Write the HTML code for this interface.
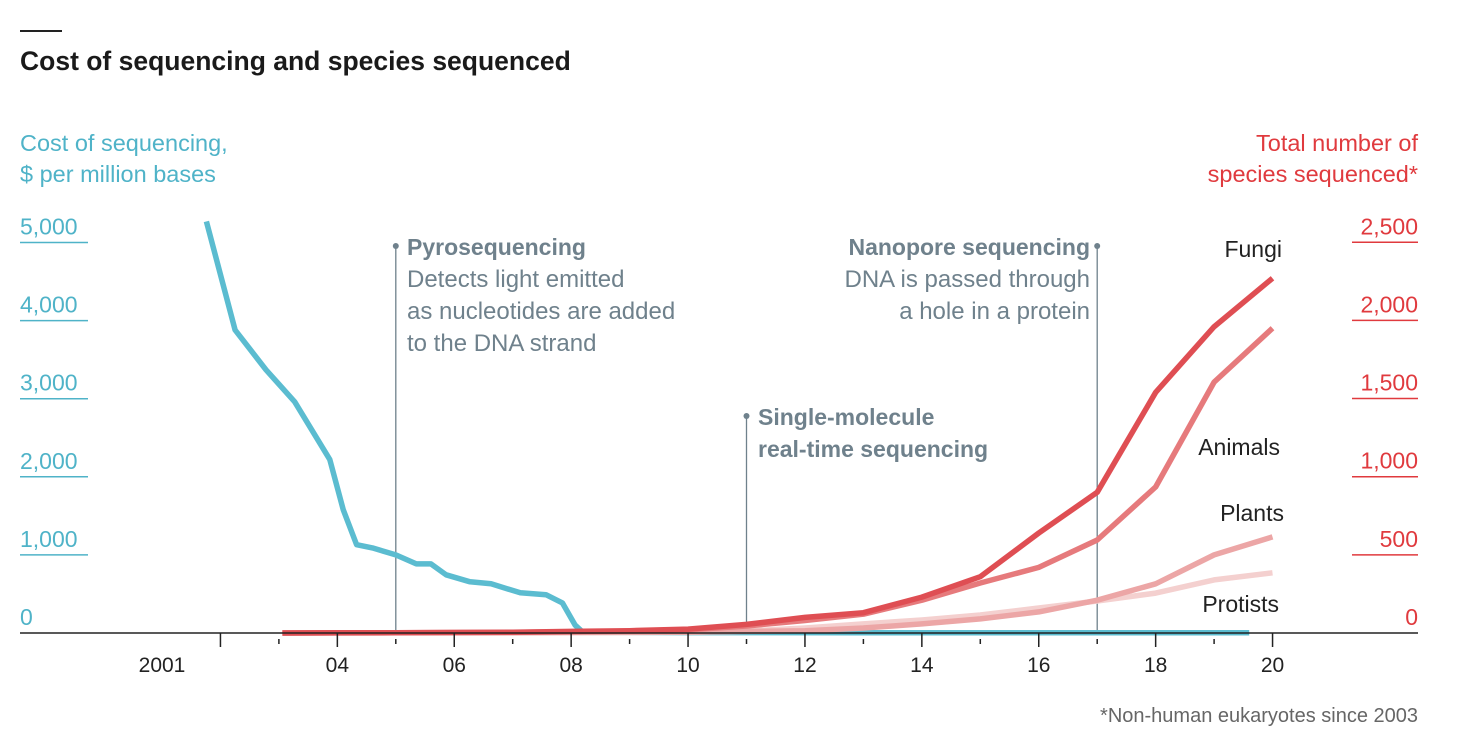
<!DOCTYPE html>
<html><head><meta charset="utf-8"><style>
body{margin:0;background:#fff;width:1468px;height:750px;overflow:hidden;font-family:"Liberation Sans",sans-serif}
svg{display:block}
</style></head><body>
<svg width="1468" height="750" id="chart">
<rect x="20" y="30" width="42" height="2" fill="#222"/>
<text x="20" y="70" font-size="26.5" font-weight="bold" fill="#1a1a1a">Cost of sequencing and species sequenced</text>
<text x="20" y="151" font-size="23.5" fill="#4fb3c8">Cost of sequencing,</text>
<text x="20" y="182" font-size="23.5" fill="#4fb3c8">$ per million bases</text>
<text x="1418" y="151" font-size="23.5" fill="#e03a3e" text-anchor="end">Total number of</text>
<text x="1418" y="182" font-size="23.5" fill="#e03a3e" text-anchor="end">species sequenced*</text>
<g id="grid"></g>
<g id="annot"></g>
<g id="series"></g>
<line x1="20" y1="633" x2="1418" y2="633" stroke="#222" stroke-width="1.5"/>
<g id="xaxis"></g>
<text x="1280" y="455" font-size="23" fill="#222" text-anchor="end">Animals</text>
<text x="1282" y="257" font-size="23" fill="#222" text-anchor="end">Fungi</text>
<text x="1284" y="521" font-size="23" fill="#222" text-anchor="end">Plants</text>
<text x="1279" y="612" font-size="23" fill="#222" text-anchor="end">Protists</text>
<text x="1418" y="722" font-size="20" fill="#666" text-anchor="end">*Non-human eukaryotes since 2003</text>
</svg>
<script>
const costYears=[2001.76,2002.25,2002.78,2003.27,2003.87,2004.1,2004.33,2004.6,2005,2005.35,2005.6,2005.86,2006.27,2006.63,2007.13,2007.57,2007.85,2008.07,2008.2,2010,2013,2019.6];
const costValues=[5270,3880,3370,2960,2220,1580,1130,1090,1000,885,885,745,655,630,515,490,385,100,10,5,3,3];
const spYears=[2003.06,2004,2005,2006,2007,2008,2009,2010,2011,2012,2013,2014,2015,2016,2017,2018,2019,2020];
const fungi=[0,1,2,3,5,10,15,25,55,100,130,230,360,640,900,1540,1960,2270];
const animals=[0,1,2,3,4,8,12,20,45,80,120,210,320,420,595,935,1605,1950];
const plants=[0,0,1,1,2,3,4,6,10,15,32,58,90,135,210,315,500,615];
const protists=[0,0,1,1,2,3,4,6,12,32,58,83,115,160,205,255,340,385];
const leftTicks=[0,1000,2000,3000,4000,5000];
const rightTicks=[0,500,1000,1500,2000,2500];
const xLabelYears=[2001,2004,2006,2008,2010,2012,2014,2016,2018,2020];
const xLabels=["2001","04","06","08","10","12","14","16","18","20"];
const minorYears=[2002,2003,2005,2007,2009,2011,2013,2015,2017,2019];
const NS="http://www.w3.org/2000/svg";
const X=y=>162+(y-2001)*58.45;
const YL=v=>633-v*0.0781;
const YR=v=>633-v*0.1563;
function mk(t,a,p){const e=document.createElementNS(NS,t);for(const k in a)e.setAttribute(k,a[k]);p.appendChild(e);return e;}
const grid=document.getElementById('grid');
leftTicks.forEach((v,i)=>{
 const t=mk('text',{x:20,y:YL(v)-8,'font-size':23,fill:'#4fb3c8'},grid);t.textContent=v.toLocaleString('en-US');
 
 
 if(v>0){const l=mk('line',{x1:20,x2:88,y1:YL(v),y2:YL(v),stroke:'#4fb3c8','stroke-width':1.5},grid);
 
 }
});
rightTicks.forEach(v=>{
 const t=mk('text',{x:1418,y:YR(v)-8,'font-size':23,fill:'#e03a3e','text-anchor':'end'},grid);t.textContent=v.toLocaleString('en-US');
 
 
 if(v>0){const l=mk('line',{x1:1352,x2:1418,y1:YR(v),y2:YR(v),stroke:'#e03a3e','stroke-width':1.5},grid);
 
 }
});
const xa=document.getElementById('xaxis');
xLabelYears.forEach((y,i)=>{
 const t=mk('text',{x:X(y),y:672,'font-size':21,fill:'#222','text-anchor':'middle'},xa);t.textContent=xLabels[i];
 
 
 if(y!==2001){const l=mk('line',{x1:X(y),x2:X(y),y1:633,y2:647,stroke:'#222','stroke-width':1.5},xa);
 
 }
});
minorYears.forEach(y=>{
 const big=(y===2002);
 const l=mk('line',{x1:X(y),x2:X(y),y1:big?633:639,y2:big?647:644,stroke:'#222','stroke-width':1.5},xa);
 
 
});
const an=document.getElementById('annot');
function annot(year,top,name){
 const l=mk('line',{x1:X(year),x2:X(year),y1:top,y2:633,stroke:'#6f818c','stroke-width':1.3},an);
 
 
 const c=mk('circle',{cx:X(year),cy:top,r:3,fill:'#6f818c'},an);
 
 
}
annot(2005,246,'pyrosequencing');annot(2011,416,'single-molecule');annot(2017,246,'nanopore');
function txt(x,y,s,b,anchor,name){const t=mk('text',{x:x,y:y,'font-size':b?23:24,fill:'#6f818c','font-weight':b?'bold':'normal','text-anchor':anchor||'start'},an);t.textContent=s;
 
 }
txt(407,255,'Pyrosequencing',1,0,'pyro-title');
txt(407,287,'Detects light emitted',0,0,'pyro-desc');
txt(407,319,'as nucleotides are added',0,0,'pyro-desc');
txt(407,351,'to the DNA strand',0,0,'pyro-desc');
txt(758,425,'Single-molecule',1,0,'smrt-title');
txt(758,457,'real-time sequencing',1,0,'smrt-title');
txt(1090,255,'Nanopore sequencing',1,'end','nanopore-title');
txt(1090,287,'DNA is passed through',0,'end','nanopore-desc');
txt(1090,319,'a hole in a protein',0,'end','nanopore-desc');
const sg=document.getElementById('series');
function line(xs,vs,yf,col,name){
 const d=xs.map((x,i)=>(i?'L':'M')+X(x).toFixed(1)+','+yf(vs[i]).toFixed(1)).join('');
 const p=mk('path',{d:d,fill:'none',stroke:col,'stroke-width':5.5,'stroke-linejoin':'round'},sg);
 
 
}
line(costYears,costValues,YL,'#5bbcd0','cost-line');
line(spYears,protists,YR,'#f4d0cf','protists-line');
line(spYears,plants,YR,'#eca6a6','plants-line');
line(spYears,animals,YR,'#e67a7c','animals-line');
line(spYears,fungi,YR,'#df4e53','fungi-line');
</script>
</body></html>
